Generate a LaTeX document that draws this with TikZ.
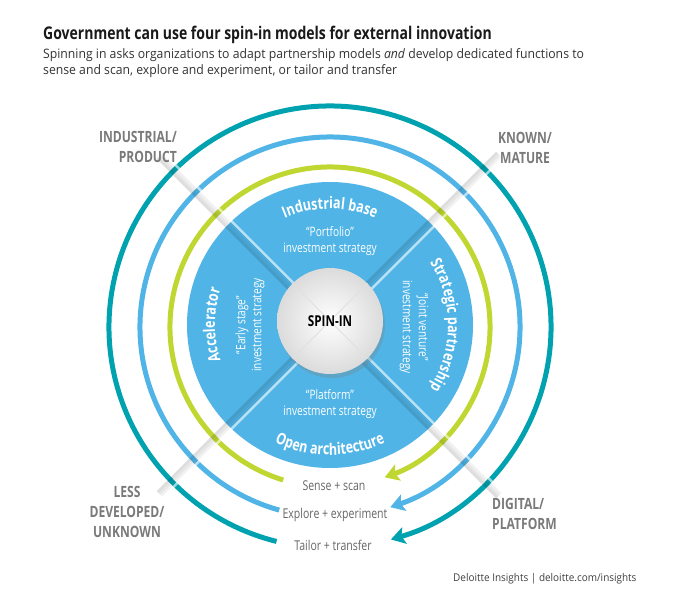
\documentclass[tikz,border=0pt]{standalone}
\usepackage{fontspec}
\setmainfont{Open Sans}
\newfontfamily\condfont[FakeStretch=0.78]{Open Sans}
\newfontfamily\titlefont[FakeStretch=0.8]{Open Sans}
\newfontfamily\subfont[FakeStretch=0.94]{Open Sans}
\usetikzlibrary{arrows.meta, decorations.text, shadows, positioning}

\definecolor{discBlue}{HTML}{50B4E6}
\definecolor{ringGreen}{HTML}{BFD730}
\definecolor{ringBlue}{HTML}{50B4E6}
\definecolor{ringTeal}{HTML}{00A2B0}
\definecolor{labelGray}{HTML}{7A7A7A}
\definecolor{stageGray}{HTML}{666666}
\definecolor{titleBlack}{HTML}{1A1A1A}

\begin{document}
\begin{tikzpicture}[
    x=1pt, y=1pt,
    ring/.style={line width=5pt, draw=#1,
                 -{Stealth[length=14pt, width=17pt, inset=3pt]}},
    corner/.style={font=\condfont\bfseries\fontsize{15.5}{20}\selectfont,
                 text=labelGray, inner sep=0pt},
    stage/.style={font=\condfont\fontsize{13.5}{16}\selectfont,
                 text=stageGray, inner sep=0pt},
    strategy/.style={font=\condfont\fontsize{13}{16}\selectfont,
                 text=white, align=center, inner sep=0pt},
    curved/.style={decorate, decoration={text along path, text align=center,
                 text color=white,
                 text={|\condfont\bfseries\fontsize{16}{16}\selectfont|#1}}}
  ]

  \path[use as bounding box, fill=white] (-330,-275) rectangle (368,325);

  %% ---- Heading ----
  \node[anchor=base west, inner sep=0pt, text=titleBlack,
        font=\titlefont\bfseries\fontsize{17.5}{20}\selectfont]
        (title) at (-287,285) {Government can use four spin-in models for external innovation};
  \node[anchor=north west, inner sep=0pt, align=left, text=black!80,
        font=\subfont\fontsize{13}{16}\selectfont]
        (subtitle) at (-287,277) {Spinning in asks organizations to adapt partnership models \textit{and} develop dedicated functions to\\
        sense and scan, explore and experiment, or tailor and transfer};

  %% ---- Rings ----
  \draw[ring=ringGreen] (0,-2) ++(253:160)   arc[start angle=253,   end angle=-70,   radius=160];
  \draw[ring=ringBlue]  (0,-2) ++(254.5:190) arc[start angle=254.5, end angle=-71.5, radius=190];
  \draw[ring=ringTeal]  (0,-2) ++(256:221)   arc[start angle=256,   end angle=-74,   radius=221];

  %% ---- Disc ----
  \node[circle, fill=discBlue, minimum size=286pt, inner sep=0pt] (disc) at (0,0) {};

  %% ---- Diagonal folds ----
  \foreach \ang in {45, 135} {
    \foreach \off/\tone/\op in {-3.75/white/0.6, -1.25/black/0.05, 1.25/black/0.09, 3.75/black/0.13} {
      \draw[draw=\tone, draw opacity=\op, line width=2.5pt, rotate=\ang]
        (-240,\off) -- (240,\off);
    }
  }

  %% ---- Disc labels ----
  \path[curved={Industrial base}]       (140:116) arc[start angle=140, end angle=40,  radius=116];
  \path[curved={Strategic partnership}] (62:118)  arc[start angle=62,  end angle=-62, radius=118];
  \path[curved={Accelerator}]           (235:115) arc[start angle=235, end angle=125, radius=115];
  \path[curved={Open architecture}]     (215:130) arc[start angle=215, end angle=325, radius=130];

  \node[strategy] (portfolio) at (0,84)  {“Portfolio”\\investment strategy};
  \node[strategy] (platform)  at (0,-79) {“Platform”\\investment strategy};
  \node[strategy, rotate=90]  (earlyStage)   at (-80,0) {“Early stage”\\investment strategy};
  \node[strategy, rotate=-90] (jointVenture) at (84,-2) {“Joint venture”\\investment strategy};

  %% ---- Centre ----
  \node[circle, minimum size=106pt, inner sep=0pt, inner color=white, outer color=black!14,
        drop shadow={shadow xshift=2pt, shadow yshift=-4pt, opacity=0.3}]
        (spin) at (0,4) {};
  \draw[black!12, line width=1pt] (spin.45) -- (spin.225) (spin.135) -- (spin.315);
  \node[font=\condfont\bfseries\fontsize{15}{15}\selectfont] (spinLabel) at (spin) {SPIN-IN};

  %% ---- Stages ----
  \node[stage] (sense)   at (4,-161) {Sense + scan};
  \node[stage] (explore) at (5,-190) {Explore + experiment};
  \node[stage] (tailor)  at (3,-220) {Tailor + transfer};

  %% ---- Corner labels ----
  \node[corner, anchor=east, align=right] (industrial)    at (-153,178) {INDUSTRIAL/\\PRODUCT};
  \node[corner, align=center]             (known)         at (195,177)  {KNOWN/\\MATURE};
  \node[corner, align=center]             (lessDeveloped) at (-203,-187) {LESS\\DEVELOPED/\\UNKNOWN};
  \node[corner, anchor=west, align=left]  (digital)       at (162,-189) {DIGITAL/\\PLATFORM};

  %% ---- Source ----
  \node[anchor=base west, inner sep=0pt, text=black!75,
        font=\subfont\fontsize{10.6}{12}\selectfont]
        (source) at (123,-256) {Deloitte Insights | deloitte.com/insights};

\end{tikzpicture}
\end{document}
